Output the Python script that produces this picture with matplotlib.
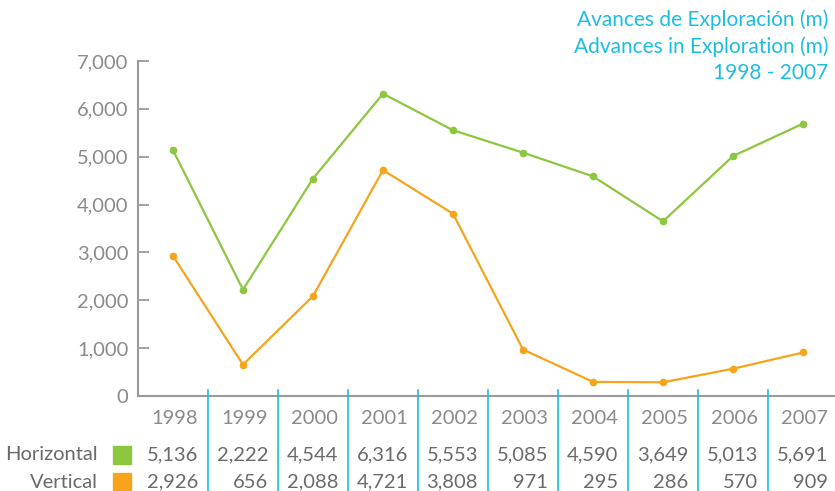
import matplotlib.pyplot as plt
from matplotlib.lines import Line2D
from matplotlib.patches import Rectangle

years = ["1998", "1999", "2000", "2001", "2002", "2003", "2004", "2005", "2006", "2007"]
horizontal = [5136, 2222, 4544, 6316, 5553, 5085, 4590, 3649, 5013, 5691]
vertical = [2926, 656, 2088, 4721, 3808, 971, 295, 286, 570, 909]
yticks = [0, 1000, 2000, 3000, 4000, 5000, 6000, 7000]
title_lines = ["Avances de Exploración (m)", "Advances in Exploration (m)", "1998 - 2007"]

GREEN = "#8dc63f"
ORANGE = "#f7a41d"
CYAN = "#1cbde3"
GRAY = "#8a8a8a"
DARK = "#6a6a6a"
AXGRAY = "#9a9a9a"

plt.rcParams["font.family"] = ["Lato", "DejaVu Sans"]

W, H = 835, 491
fig = plt.figure(figsize=(W / 100, H / 100), dpi=100)

# axes in pixel layout: spine at x=138, y=0 at 396px, 7000 at 61px
ax = fig.add_axes([138 / W, 1 - 396 / H, (W - 138) / W, (396 - 61) / H])
x = list(range(len(years)))
ax.plot(x, horizontal, color=GREEN, lw=1.6, marker="o", ms=4.5, zorder=3)
ax.plot(x, vertical, color=ORANGE, lw=1.6, marker="o", ms=4.5, zorder=3)

ax.set_xlim(-0.5, (W - 173) / 70)
ax.set_ylim(0, 7000)
ax.set_yticks(yticks)
ax.set_yticklabels([f"{v:,}" for v in yticks], fontsize=14.5, color=GRAY)
ax.set_xticks([])
ax.tick_params(axis="y", direction="in", length=8, width=1.3, color=AXGRAY, pad=7)
for s in ["top", "right"]:
    ax.spines[s].set_visible(False)
for s in ["left", "bottom"]:
    ax.spines[s].set_color(AXGRAY)
    ax.spines[s].set_linewidth(1.5)
ax.patch.set_alpha(0)

# title
for i, t in enumerate(title_lines):
    fig.text(828 / W, 1 - (20 + 26.5 * i) / H, t, ha="right", va="center",
             fontsize=15, color=CYAN)

# table separators
for k in range(9):
    xs = (208 + 70 * k) / W
    fig.add_artist(Line2D([xs, xs], [0, 1 - 390 / H], color=CYAN, lw=1.2))

# table text
for i, yr in enumerate(years):
    xr = (198 + 70 * i) / W
    fig.text(xr, 1 - 418 / H, yr, ha="right", va="center", fontsize=14.5, color=GRAY)
    fig.text(xr, 1 - 455 / H, f"{horizontal[i]:,}", ha="right", va="center",
             fontsize=14.5, color=DARK)
    fig.text(xr, 1 - 482 / H, f"{vertical[i]:,}", ha="right", va="center",
             fontsize=14.5, color=DARK)

fig.text(98 / W, 1 - 455 / H, "Horizontal", ha="right", va="center", fontsize=14.5, color=DARK)
fig.text(98 / W, 1 - 482 / H, "Vertical", ha="right", va="center", fontsize=14.5, color=DARK)
fig.add_artist(Rectangle((113 / W, 1 - 464 / H), 18 / W, 18 / H, color=GREEN,
                         transform=fig.transFigure))
fig.add_artist(Rectangle((113 / W, 1 - 491 / H), 18 / W, 18 / H, color=ORANGE,
                         transform=fig.transFigure))

fig.savefig("out.png", dpi=100)
